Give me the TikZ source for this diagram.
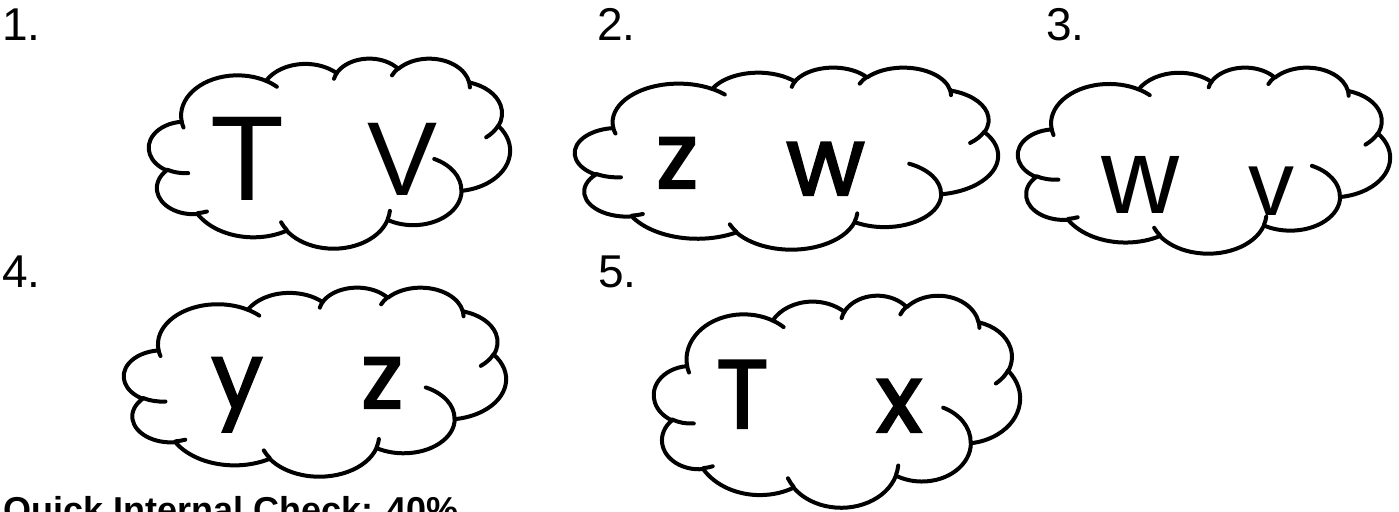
\documentclass[tikz,border=0pt]{standalone}
\usepackage{fontspec}
\setmainfont{Liberation Sans}
\newfontfamily\comicfont[FakeBold=2.2]{Poppins}
% visual angle -> parametric angle for elliptical arcs (DrawingML style)
\newcommand\vpang[4]{%
  \pgfmathsetmacro\vpA{#4}%
  \pgfmathsetmacro\vpT{atan2((#2)*sin(\vpA),(#3)*cos(\vpA))}%
  \pgfmathsetmacro#1{\vpA+Mod(\vpT-\vpA+180,360)-180}%
}
\newcommand\setang[5]{%
  \expandafter\vpang\csname clouds#1\endcsname{#2}{#3}{#4}%
  \expandafter\vpang\csname cloude#1\endcsname{#2}{#3}{#4+#5}%
}
\setang{A}{15.632}{21.273}{-190.4875}{123.7805}
\setang{B}{12.345}{16.822}{-144.1024}{89.9452}
\setang{C}{10.104}{13.762}{-145.8079}{99.7230}
\setang{D}{11.243}{15.266}{-130.9861}{117.2417}
\setang{E}{12.345}{16.836}{-78.7089}{109.0269}
\setang{F}{15.683}{21.343}{-46.2673}{130.2690}
\setang{G}{13.391}{18.211}{0.6250}{114.0333}
\setang{H}{15.630}{21.331}{22.4516}{115.1726}
\setang{I}{17.870}{24.405}{66.2426}{75.7110}
\setang{J}{10.093}{13.699}{-274.9421}{146.7356}
\setang{K}{10.058}{13.762}{-246.8285}{152.5189}
\setang{a}{10.058}{13.762}{86.7420}{26.4295}
\setang{b}{10.093}{13.699}{73.6105}{11.4475}
\setang{c}{15.630}{21.331}{137.6242}{14.0811}
\setang{d}{15.630}{21.331}{6.4533}{15.9984}
\setang{e}{13.391}{18.211}{-70.2924}{70.9174}
\setang{f}{12.345}{16.836}{30.3180}{27.7515}
\setang{g}{11.243}{15.266}{-13.7443}{14.8589}
\setang{h}{11.243}{15.266}{-149.1815}{18.1954}
\setang{i}{10.104}{13.762}{-163.4943}{17.6864}
\setang{j}{15.632}{21.273}{-66.7070}{12.3194}
\setang{k}{15.632}{21.273}{157.6544}{11.8582}
\newcommand\carc[3]{arc[start angle=\csname clouds#1\endcsname, end angle=\csname cloude#1\endcsname, x radius=#2, y radius=#3]}
\newcommand\cloudshape{%
  \draw[cloudline, fill=white] (9.028,33.264)
    \carc{A}{15.632}{21.273} \carc{B}{12.345}{16.822} \carc{C}{10.104}{13.762}
    \carc{D}{11.243}{15.266} \carc{E}{12.345}{16.836} \carc{F}{15.683}{21.343}
    \carc{G}{13.391}{18.211} \carc{H}{15.630}{21.331} \carc{I}{17.870}{24.405}
    \carc{J}{10.093}{13.699} \carc{K}{10.058}{13.762} -- cycle;
  \draw[cloudline]
    (10.863,60.595) \carc{a}{10.058}{13.762}
    (16.037,80.785) \carc{b}{10.093}{13.699}
    (38.144,90.486) \carc{c}{15.630}{21.331}
    (66.729,80.442) \carc{d}{15.630}{21.331}
    (79.002,53.134) \carc{e}{13.391}{18.211}
    (96.755,35.542) \carc{f}{12.345}{16.836}
    (88.713,12.560) \carc{g}{11.243}{15.266}
    (67.310,9.148)  \carc{h}{11.243}{15.266}
    (51.252,10.926) \carc{i}{10.104}{13.762}
    (32.407,12.019) \carc{j}{15.632}{21.273}
    (9.553,36.549)  \carc{k}{15.632}{21.273};
}
\newcommand\cloudat[4]{%
  \begin{scope}[shift={(#1,#2)}, x=#3pt/100, y=-#4pt/100]
    \cloudshape
  \end{scope}}
\begin{document}
\begin{tikzpicture}[x=1pt, y=-1pt,
  cloudline/.style={line width=4pt, line join=round, line cap=round, draw=black},
  num/.style={anchor=base west, inner sep=0pt, font=\fontsize{46}{46}\selectfont},
  letter/.style={anchor=base west, inner sep=0pt},
  comic/.style={font=\comicfont\fontsize{#1}{#1}\selectfont}]
\useasboundingbox[fill=white] (0,0) rectangle (1399,511);

\cloudat{149}{58}{361}{190}
\cloudat{575}{67}{423}{182}
\cloudat{1018}{67}{372}{186}
\cloudat{124}{287}{382}{189}
\cloudat{654}{295}{366}{212}

\node[num] (n1) at (2,41) {1.};
\node[num] (n2) at (597,41) {2.};
\node[num] (n3) at (1046,41) {3.};
\node[num] (n4) at (2,287) {4.};
\node[num] (n5) at (598,287) {5.};

% cloud 1
\node[letter, font=\fontsize{121}{121}\selectfont] (c1a) at (210,200) {T};
\node[letter, font=\fontsize{105}{105}\selectfont] (c1b) at (367,195) {V};
% cloud 2
\node[letter, comic=92] (c2a) at (656,188) {z};
\node[letter, comic=96] (c2b) at (786,195) {w};
% cloud 3
\node[letter, font=\fontsize{108}{108}\selectfont] (c3a) at (1101,213) {w};
\node[letter, font=\fontsize{92}{92}\selectfont] (c3b) at (1248,215) {v};
% cloud 4
\node[letter, comic=92] (c4a) at (211,408) {y};
\node[letter, comic=92] (c4b) at (361,408) {z};
% cloud 5
\node[letter, comic=97] (c5a) at (716,428) {T};
\node[letter, comic=96] (c5b) at (876,432) {x};

\node[anchor=base west, inner sep=0pt, font=\bfseries\fontsize{36}{36}\selectfont] (bot) at (3,522) {Quick Internal Check: 40\%};
\end{tikzpicture}
\end{document}
